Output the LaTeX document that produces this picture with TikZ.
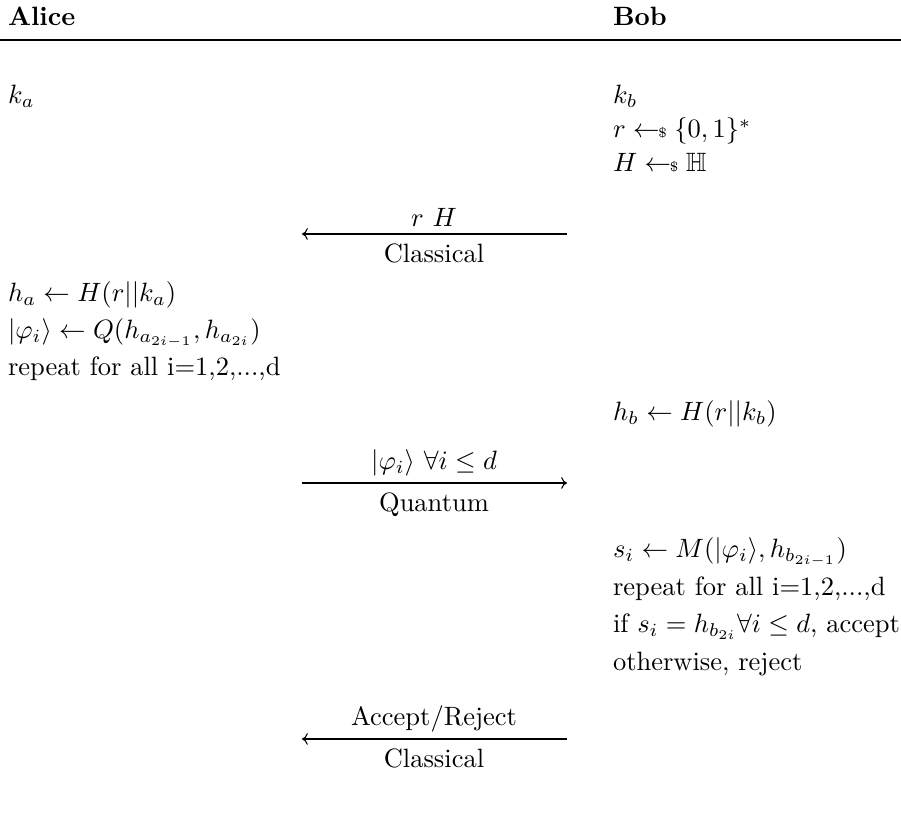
\documentclass[tikz,border=0pt]{standalone}
\usepackage{amsmath,amssymb}
\usetikzlibrary{arrows.meta}
\newcommand{\smp}{\mathrel{\gets\!\!\mbox{\tiny$\$$}}}
\begin{document}
\begin{tikzpicture}[x=0.37736pt,y=-0.37736pt,
  txt/.style={anchor=base west,inner sep=0pt,outer sep=0pt},
  above lbl/.style={anchor=south,inner sep=0pt,outer sep=0pt},
  below lbl/.style={anchor=north,inner sep=0pt,outer sep=0pt},
  msg/.style={line width=0.4pt,-{To[length=2.2pt,width=4.4pt]}},
  headrule/.style={line width=1pt}]
\useasboundingbox (0,0) rectangle (901,823);
% header
\node[txt] (alice) at (8,26) {\textbf{Alice}};
\node[txt] (bob) at (613,26) {\textbf{Bob}};
\coordinate (ruleL) at (0,40);
\coordinate (ruleR) at (901,40);
\draw[headrule] (ruleL) -- (ruleR);
% initial
\node[txt] (ka) at (8,104) {$k_a$};
\node[txt] (kb) at (613,104) {$k_b$};
\node[txt] (r) at (613,138) {$r \smp \{0,1\}^*$};
\node[txt] (H) at (613,172) {$H \smp \mathbb{H}$};
% message 1
\coordinate (m1R) at (567,234);
\coordinate (m1L) at (302,234);
\draw[msg] (m1R) -- (m1L);
\node[above lbl] (m1t) at (434,227) {$r\ H$};
\node[below lbl] (m1b) at (434,244) {Classical};
% Alice computes
\node[txt] (ha) at (8,302) {$h_a \leftarrow H(r||k_a)$};
\node[txt] (phi) at (8,339) {$|\varphi_i\rangle \leftarrow Q(h_{a_{2i-1}},h_{a_{2i}})$};
\node[txt] (repA) at (8,376) {repeat for all i=1,2,...,d};
\node[txt] (hb) at (613,421) {$h_b \leftarrow H(r||k_b)$};
% message 2
\coordinate (m2L) at (302,483);
\coordinate (m2R) at (567,483);
\draw[msg] (m2L) -- (m2R);
\node[above lbl] (m2t) at (434,476) {$|\varphi_i\rangle\ \forall i \leq d$};
\node[below lbl] (m2b) at (434,493) {Quantum};
% Bob verifies
\node[txt] (si) at (613,558) {$s_i \leftarrow M(|\varphi_i\rangle, h_{b_{2i-1}})$};
\node[txt] (repB) at (613,596) {repeat for all i=1,2,...,d};
\node[txt] (ifl) at (613,633) {if $s_i = h_{b_{2i}} \forall i \leq d$, accept};
\node[txt] (oth) at (613,671) {otherwise, reject};
% message 3
\coordinate (m3R) at (567,739);
\coordinate (m3L) at (302,739);
\draw[msg] (m3R) -- (m3L);
\node[above lbl] (m3t) at (434,732) {Accept/Reject};
\node[below lbl] (m3b) at (434,749) {Classical};
\end{tikzpicture}
\end{document}
